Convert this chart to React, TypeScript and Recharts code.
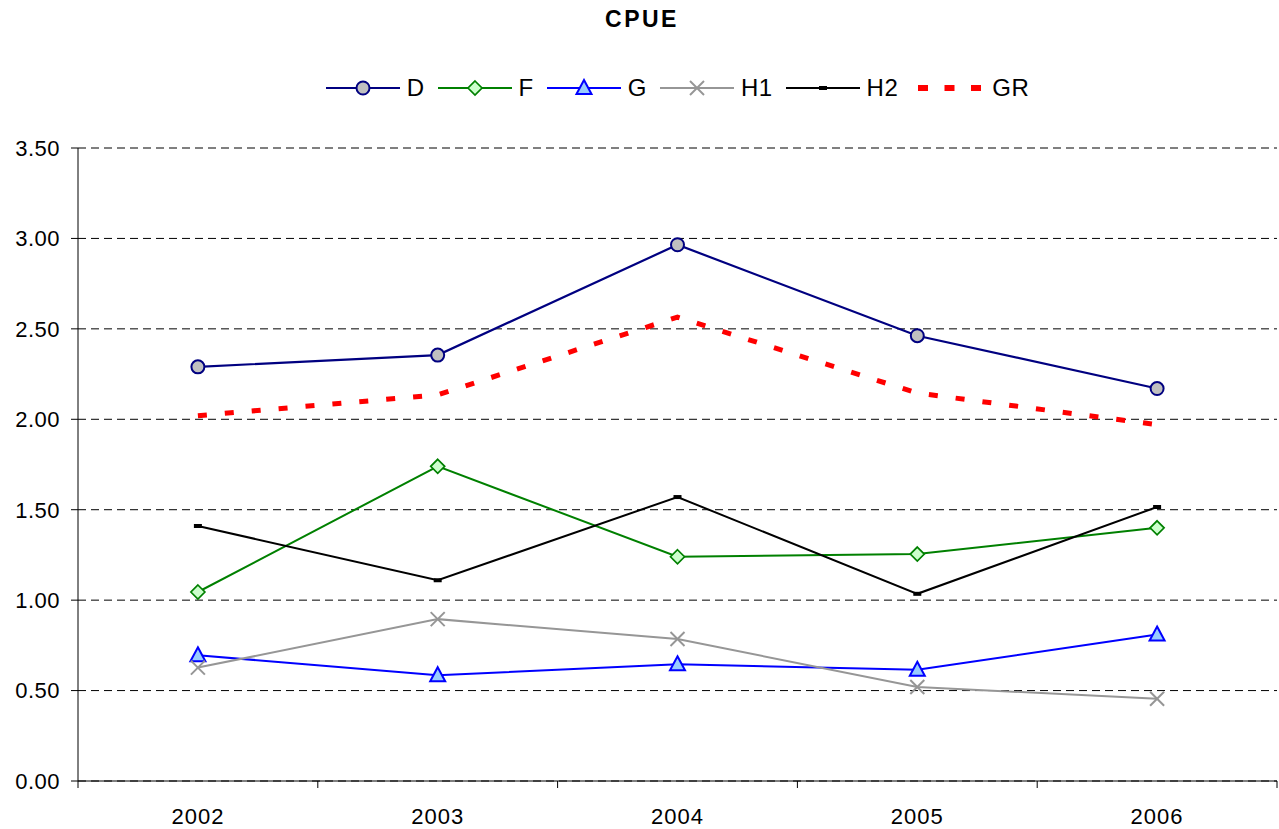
import React from 'react'
import {
  LineChart,
  Line,
  XAxis,
  YAxis,
  CartesianGrid,
  Legend,
} from 'recharts'

const years = ['2002', '2003', '2004', '2005', '2006']
const seriesD = [2.29, 2.355, 2.965, 2.462, 2.17]
const seriesF = [1.045, 1.74, 1.24, 1.255, 1.4]
const seriesG = [0.695, 0.585, 0.645, 0.615, 0.81]
const seriesH1 = [0.627, 0.895, 0.785, 0.52, 0.455]
const seriesH2 = [1.41, 1.11, 1.57, 1.035, 1.515]
const seriesGR = [2.02, 2.135, 2.565, 2.145, 1.97]
const yTicks = [0, 0.5, 1, 1.5, 2, 2.5, 3, 3.5]

const chartData = years.map((year, i) => ({
  year,
  D: seriesD[i],
  F: seriesF[i],
  G: seriesG[i],
  H1: seriesH1[i],
  H2: seriesH2[i],
  GR: seriesGR[i],
}))

const FONT = '"Liberation Sans", Arial, sans-serif'
const W = 1279
const H = 829
const Y_AXIS_W = 78
const RIGHT = 2
const TICK_SIZE = 7
const TICK_MARGIN = 20
// half of one category band, used to put the x tick marks between years
const HALF_BAND = (W - Y_AXIS_W - RIGHT) / years.length / 2

// marker shapes, drawn around (cx, cy)
function Marker({ kind, cx, cy }: { kind: string; cx: number; cy: number }) {
  switch (kind) {
    case 'D':
      return <circle cx={cx} cy={cy} r={6.5} fill="#C0C0C0" stroke="#000080" strokeWidth={2} />
    case 'F':
      return (
        <polygon
          points={`${cx},${cy - 7} ${cx + 7},${cy} ${cx},${cy + 7} ${cx - 7},${cy}`}
          fill="#CCFFCC"
          stroke="#008000"
          strokeWidth={1.7}
        />
      )
    case 'G':
      return (
        <polygon
          points={`${cx},${cy - 8} ${cx + 7.5},${cy + 6} ${cx - 7.5},${cy + 6}`}
          fill="#99CCFF"
          stroke="#0000FF"
          strokeWidth={2}
        />
      )
    case 'H1':
      return (
        <g stroke="#969696" strokeWidth={2}>
          <line x1={cx - 7} y1={cy - 7} x2={cx + 7} y2={cy + 7} />
          <line x1={cx - 7} y1={cy + 7} x2={cx + 7} y2={cy - 7} />
        </g>
      )
    case 'H2':
      return <rect x={cx - 4} y={cy - 2} width={8} height={4} fill="#000000" />
    default:
      return null
  }
}

const makeDot = (kind: string) => (props: any) => (
  <Marker key={`${kind}-${props.index}`} kind={kind} cx={props.cx} cy={props.cy} />
)

// year label plus the small tick marks on the band edges
function YearTick(props: any) {
  const { x, y, payload, index } = props
  const axisY = y - TICK_SIZE - TICK_MARGIN
  return (
    <g>
      <line x1={x - HALF_BAND} y1={axisY} x2={x - HALF_BAND} y2={axisY + TICK_SIZE} stroke="#000" />
      {index === years.length - 1 && (
        <line x1={x + HALF_BAND} y1={axisY} x2={x + HALF_BAND} y2={axisY + TICK_SIZE} stroke="#000" />
      )}
      <text
        x={x}
        y={y}
        dy="0.71em"
        textAnchor="middle"
        fill="#000"
        fontSize={22}
        fontFamily={FONT}
        letterSpacing={1}
      >
        {payload.value}
      </text>
    </g>
  )
}

const legendItems = [
  { key: 'D', color: '#000080' },
  { key: 'F', color: '#008000' },
  { key: 'G', color: '#0000FF' },
  { key: 'H1', color: '#969696' },
  { key: 'H2', color: '#000000' },
  { key: 'GR', color: '#FF0000' },
]

function LegendContent() {
  return (
    <div
      style={{
        height: 40,
        display: 'flex',
        justifyContent: 'center',
        alignItems: 'center',
        fontFamily: FONT,
        fontSize: 24,
        letterSpacing: 0.5,
      }}
    >
      {legendItems.map((item, i) => (
        <div
          key={item.key}
          style={{ display: 'flex', alignItems: 'center', marginRight: i === legendItems.length - 1 ? 0 : 13 }}
        >
          <svg width={74} height={20} style={{ marginRight: 7 }}>
            {item.key === 'GR' ? (
              <line x1={7} y1={10} x2={74} y2={10} stroke="#FF0000" strokeWidth={6} strokeDasharray="10 16.5" />
            ) : (
              <>
                <line x1={0} y1={10} x2={74} y2={10} stroke={item.color} strokeWidth={2} />
                <Marker kind={item.key} cx={37} cy={10} />
              </>
            )}
          </svg>
          <span>{item.key}</span>
        </div>
      ))}
    </div>
  )
}

export default function App() {
  return (
    <div style={{ position: 'absolute', left: 0, top: 0, width: W, height: H, background: '#fff' }}>
      <div
        style={{
          position: 'absolute',
          left: 0,
          top: 6,
          width: 1284,
          textAlign: 'center',
          fontFamily: FONT,
          fontWeight: 'bold',
          fontSize: 23,
          letterSpacing: 2.5,
        }}
      >
        CPUE
      </div>
      <LineChart width={W} height={H} data={chartData} margin={{ top: 108, right: RIGHT, bottom: 0, left: 0 }}>
        <CartesianGrid vertical={false} stroke="#000" strokeDasharray="8 5" />
        <XAxis
          dataKey="year"
          scale="band"
          height={48}
          tickLine={false}
          tickSize={TICK_SIZE}
          tickMargin={TICK_MARGIN}
          axisLine={{ stroke: '#000' }}
          tick={<YearTick />}
          interval={0}
        />
        <YAxis
          domain={[0, 3.5]}
          ticks={yTicks}
          width={Y_AXIS_W}
          tickSize={7}
          tickMargin={11}
          axisLine={{ stroke: '#000' }}
          tickLine={{ stroke: '#000' }}
          tick={{ fill: '#000', fontSize: 22, fontFamily: FONT, letterSpacing: 0.5 }}
          tickFormatter={(v: number) => v.toFixed(2)}
        />
        <Legend
          verticalAlign="top"
          wrapperStyle={{ top: 68, left: Y_AXIS_W, width: W - Y_AXIS_W - RIGHT }}
          content={() => <LegendContent />}
        />
        <Line dataKey="GR" stroke="#FF0000" strokeWidth={5} strokeDasharray="9 18" dot={false} activeDot={false} isAnimationActive={false} />
        <Line dataKey="D" stroke="#000080" strokeWidth={2.2} dot={makeDot('D')} activeDot={false} isAnimationActive={false} />
        <Line dataKey="F" stroke="#008000" strokeWidth={2} dot={makeDot('F')} activeDot={false} isAnimationActive={false} />
        <Line dataKey="G" stroke="#0000FF" strokeWidth={2} dot={makeDot('G')} activeDot={false} isAnimationActive={false} />
        <Line dataKey="H1" stroke="#969696" strokeWidth={2} dot={makeDot('H1')} activeDot={false} isAnimationActive={false} />
        <Line dataKey="H2" stroke="#000000" strokeWidth={2} dot={makeDot('H2')} activeDot={false} isAnimationActive={false} />
      </LineChart>
    </div>
  )
}
